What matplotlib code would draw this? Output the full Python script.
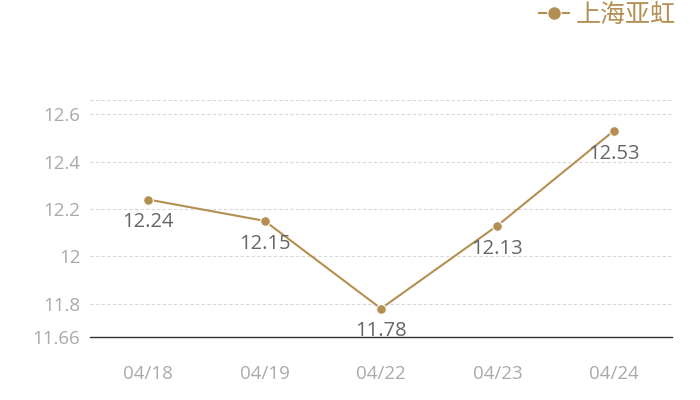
import matplotlib
matplotlib.use("Agg")
import matplotlib.pyplot as plt

plt.rcParams['font.family'] = ['Open Sans', 'Noto Sans CJK SC', 'DejaVu Sans']

dates = ["04/18", "04/19", "04/22", "04/23", "04/24"]
prices = [12.24, 12.15, 11.78, 12.13, 12.53]
yticks = [11.66, 11.8, 12.0, 12.2, 12.4, 12.6]
ytick_labels = ["11.66", "11.8", "12", "12.2", "12.4", "12.6"]
series_name = "上海亚虹"

GOLD = "#b48f52"

fig = plt.figure(figsize=(7, 4), dpi=100)
ax = fig.add_axes([90 / 700, 1 - 337 / 400, 582 / 700, 237 / 400])

x = list(range(len(dates)))
ax.plot(x, prices, color=GOLD, lw=1.5, marker="o", ms=7,
        markeredgecolor="white", markeredgewidth=0.8, label=series_name, zorder=3)

for xi, v in zip(x, prices):
    ax.annotate(f"{v:g}", (xi, v), xytext=(0, -16.5), textcoords="offset points",
                ha="center", va="center", fontsize=14.5, color="#666666")

ax.set_xlim(-0.5, len(dates) - 0.5)
ax.set_ylim(11.66, 12.66)
ax.set_xticks(x, dates)
ax.set_yticks(yticks, ytick_labels)

for g in [12.6, 12.4, 12.2, 12.0, 11.8, 12.66]:
    ax.axhline(g, color="#d8d8d8", lw=0.8, ls=(0, (3, 2)), zorder=1)

for s in ["top", "right", "left"]:
    ax.spines[s].set_visible(False)
ax.spines["bottom"].set_color("#333333")
ax.spines["bottom"].set_linewidth(1)

ax.tick_params(axis="y", length=0, pad=7, labelsize=13.5, labelcolor="#aaaaaa")
ax.tick_params(axis="x", length=0, pad=20, labelsize=13.5, labelcolor="#aaaaaa")

leg = ax.legend(loc="upper right", frameon=False, fontsize=18, handlelength=1.2,
                handletextpad=0.3, borderaxespad=0.0, borderpad=0.0, markerscale=1.4)
for t in leg.get_texts():
    t.set_color(GOLD)
leg.set_bbox_to_anchor((676 / 700, 1 - 3 / 400), transform=fig.transFigure)

fig.savefig("out.png", dpi=100)
